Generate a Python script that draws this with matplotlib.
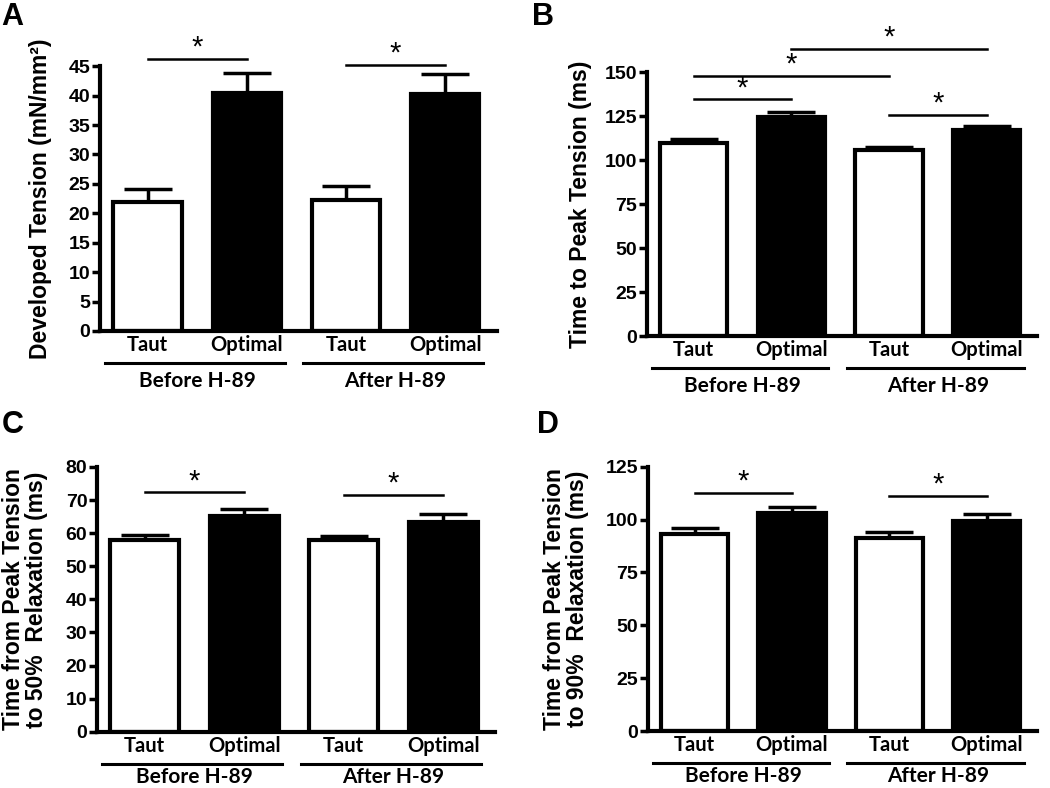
import numpy as np
import matplotlib
matplotlib.use("Agg")
import matplotlib.pyplot as plt

# data (mean, upper error)
conditions = ["Taut", "Optimal", "Taut", "Optimal"]
groups = ["Before H-89", "After H-89"]

tension_mean = [22.0, 40.5, 22.3, 40.2]
tension_err = [2.2, 3.3, 2.3, 3.4]

ttp_mean = [109.8, 124.6, 105.9, 117.0]
ttp_err = [2.4, 2.7, 1.7, 2.1]

relax50_mean = [57.9, 65.2, 57.9, 63.4]
relax50_err = [1.5, 2.1, 1.3, 2.3]

relax90_mean = [93.1, 102.9, 91.1, 99.3]
relax90_err = [3.0, 2.9, 2.9, 3.3]

# significance brackets: (bar i, bar j, height)
tension_sig = [(0, 1, 46.2), (2, 3, 45.2)]
ttp_sig = [(0, 1, 134.5), (0, 2, 148.0), (1, 3, 163.0), (2, 3, 125.6)]
relax50_sig = [(0, 1, 72.3), (2, 3, 71.5)]
relax90_sig = [(0, 1, 112.7), (2, 3, 111.3)]

FONT = "Liberation Sans"
CAT_FONT = "Lato"

W, H = 1050, 788
fig = plt.figure(figsize=(W / 100, H / 100), dpi=100)


def panel(rect, means, errs, sigs, ymax, ystep, ylabel, letter, letter_xy, ylabel_px,
          group_y=-0.188):
    ax = fig.add_axes(rect)
    x = np.arange(len(means))
    colors = ["white", "black", "white", "black"]
    ax.bar(x, means, width=0.69, color=colors, edgecolor="black", linewidth=3, zorder=2)
    ax.errorbar(x, means, yerr=[np.zeros(len(errs)), errs], fmt="none", ecolor="black",
                elinewidth=2.5, capsize=17, capthick=2.5, zorder=1)
    ax.set_xlim(-0.48, 3.52)
    ax.set_ylim(0, ymax)
    ax.set_yticks(np.arange(0, ymax + 0.1, ystep))
    for s in ["top", "right"]:
        ax.spines[s].set_visible(False)
    ax.spines["left"].set_linewidth(3)
    ax.spines["bottom"].set_linewidth(3)
    ax.tick_params(axis="y", length=6, width=2.5, pad=1, labelsize=14)
    for t in ax.get_yticklabels():
        t.set_fontfamily(FONT)
        t.set_fontweight("bold")
    ax.set_xticks(x)
    ax.set_xticklabels(conditions, fontfamily=CAT_FONT, fontweight="bold", fontsize=14.5)
    ax.tick_params(axis="x", length=0, pad=3)

    # y label placed by its centre, in figure pixels
    fig.text(ylabel_px / W, rect[1] + rect[3] / 2, ylabel, rotation=90, ha="center",
             va="center", fontfamily=FONT, fontweight="bold", fontsize=16.5,
             linespacing=1.0, multialignment="center")

    # group lines under the category labels
    tr = ax.get_xaxis_transform()
    for g, (a, b) in enumerate([(0, 1), (2, 3)]):
        ax.plot([a - 0.43, b + 0.38], [-0.12, -0.12], color="black", lw=2.2,
                transform=tr, clip_on=False)
        ax.text((a + b) / 2, group_y, groups[g], transform=tr, ha="center", va="center",
                fontfamily=CAT_FONT, fontweight="bold", fontsize=15)

    # significance brackets
    for i, j, h in sigs:
        ax.plot([i, j], [h, h], color="black", lw=1.8, clip_on=False)
        ax.annotate("*", ((i + j) / 2, h), xytext=(0, -2), textcoords="offset points",
                    ha="center", va="bottom", fontsize=21, fontfamily=FONT,
                    annotation_clip=False)

    fig.text(letter_xy[0], letter_xy[1], letter, fontfamily=FONT, fontweight="bold",
             fontsize=22, ha="left", va="top")
    return ax


panel([0.0952, 0.580, 0.378, 0.336], tension_mean, tension_err, tension_sig, 45, 5,
      "Developed Tension (mN/mm\u00b2)", "A", (0.001, 0.998), 40)
panel([0.616, 0.5736, 0.372, 0.335], ttp_mean, ttp_err, ttp_sig, 150, 25,
      "Time to Peak Tension (ms)", "B", (0.507, 0.998), 580)
panel([0.0924, 0.0714, 0.379, 0.336], relax50_mean, relax50_err, relax50_sig, 80, 10,
      "Time from Peak Tension\nto 50%  Relaxation (ms)", "C", (0.002, 0.48), 25,
      group_y=-0.172)
panel([0.617, 0.0723, 0.371, 0.3355], relax90_mean, relax90_err, relax90_sig, 125, 25,
      "Time from Peak Tension\nto 90%  Relaxation (ms)", "D", (0.511, 0.48), 566,
      group_y=-0.172)

fig.savefig("out.png", dpi=100)
